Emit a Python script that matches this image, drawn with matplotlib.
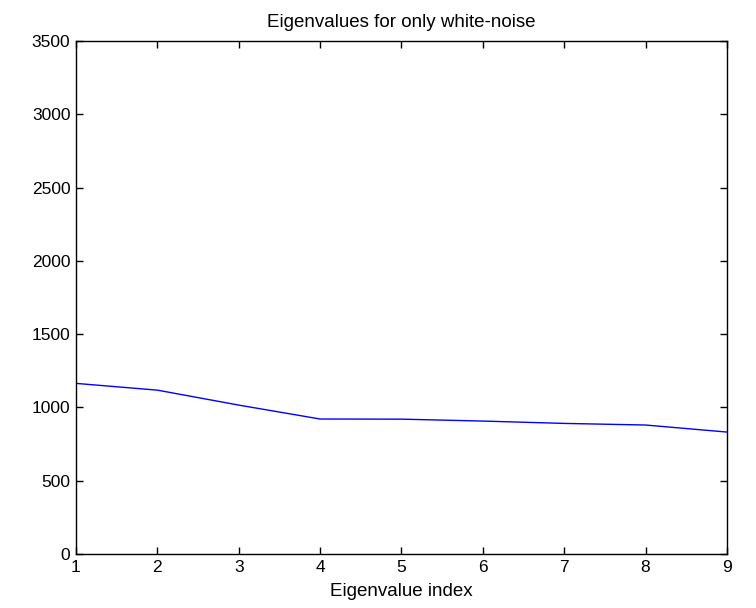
import numpy as np
import matplotlib
matplotlib.use('Agg')
import matplotlib.pyplot as plt

# eigenvalues
index = [1, 2, 3, 4, 5, 6, 7, 8, 9]
eigenvalues = [1164, 1118, 1016, 921, 920, 907, 891, 880, 832]

plt.rcParams['font.family'] = ['Liberation Sans', 'DejaVu Sans']

fig = plt.figure(figsize=(7.56, 6.08), dpi=100)
ax = fig.add_axes([0.1005, 0.0888, 0.861, 0.8438])

ax.plot(index, eigenvalues, color='#0000ff', linewidth=1.0)

ax.set_xlim(1, 9)
ax.set_ylim(0, 3500)
ax.set_xticks(np.arange(1, 10))
ax.set_yticks(np.arange(0, 3501, 500))
ax.tick_params(direction='in', top=True, right=True, length=5, width=1, labelsize=12.5, pad=4)
for s in ax.spines.values():
    s.set_linewidth(1.0)

ax.set_title('Eigenvalues for only white-noise', fontsize=13.5, pad=10)
ax.set_xlabel('Eigenvalue index', fontsize=13.5, labelpad=6)

plt.savefig('out.png', dpi=100)
